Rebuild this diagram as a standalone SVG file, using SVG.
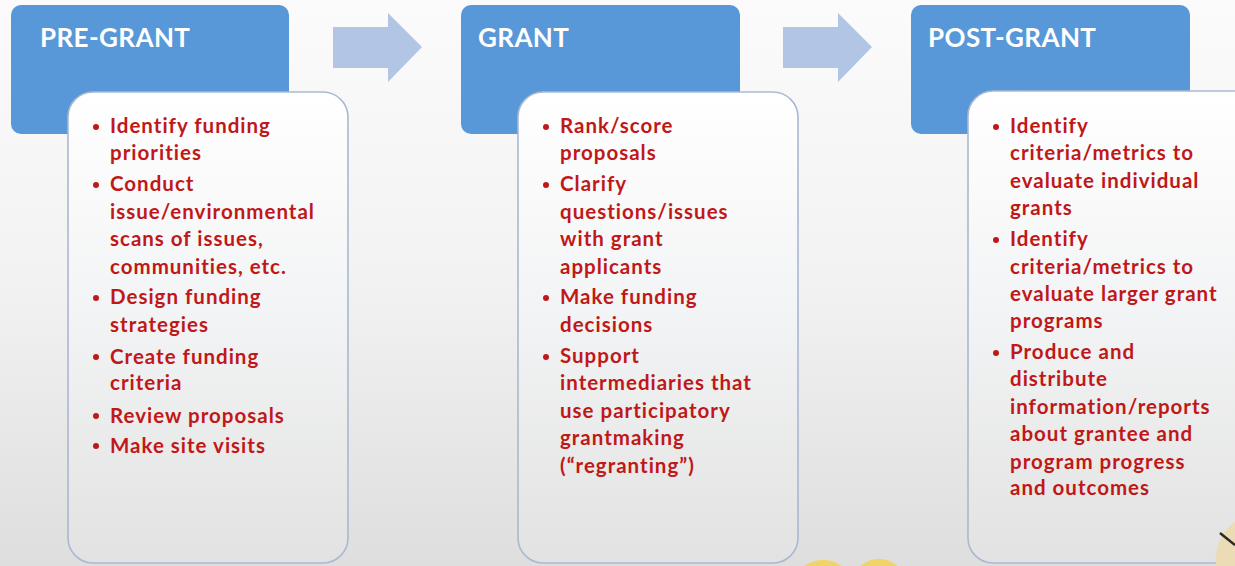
<svg xmlns="http://www.w3.org/2000/svg" width="1235" height="566" viewBox="0 0 1235 566">
  <defs>
    <linearGradient id="bg" x1="0" y1="0" x2="0" y2="1">
      <stop offset="0" stop-color="#fbfbfb"/>
      <stop offset="0.5" stop-color="#f2f2f2"/>
      <stop offset="1" stop-color="#dedede"/>
    </linearGradient>
    <linearGradient id="card" gradientUnits="userSpaceOnUse" x1="0" y1="92" x2="0" y2="564">
      <stop offset="0" stop-color="#ffffff"/>
      <stop offset="0.45" stop-color="#f3f4f5"/>
      <stop offset="1" stop-color="#e2e2e2"/>
    </linearGradient>
    <radialGradient id="duck" cx="0.5" cy="1" r="0.7">
      <stop offset="0" stop-color="#f0c21e"/>
      <stop offset="1" stop-color="#f0d466"/>
    </radialGradient>
  </defs>
  <style>
    .hdr { fill: #5898d8; }
    .hdrtxt { font-family: Lato, "Open Sans", sans-serif; font-weight: bold; font-size: 26px; letter-spacing: 0.4px; fill: #ffffff; }
    .card { fill: url(#card); stroke: #a9b9d2; stroke-width: 1.6; }
    .item { font-family: Lato, "Open Sans", sans-serif; font-weight: bold; font-size: 20.5px; letter-spacing: 1px; fill: #c01818; }
    .dot { fill: #c01818; }
    .arrow { fill: #b2c5e4; }
  </style>
  <rect x="0" y="0" width="1235" height="566" fill="url(#bg)"/>

  <g id="connectors">
    <polygon class="arrow" points="333,27 388,27 388,13 422,47 388,82 388,68 333,68"/>
    <polygon class="arrow" points="783,27 838,27 838,13 872,47 838,82 838,68 783,68"/>
  </g>

  <g id="pre-grant">
    <rect class="hdr" x="11" y="5" width="278" height="129" rx="10"/>
    <text class="hdrtxt" x="40" y="47">PRE-GRANT</text>
    <rect class="card" x="68" y="92" width="280" height="471" rx="25"/>
    <g class="item">
      <circle class="dot" cx="96" cy="127" r="3"/>
      <text x="110" y="133">Identify funding</text>
      <text x="110" y="160">priorities</text>
      <circle class="dot" cx="96" cy="185" r="3"/>
      <text x="110" y="191">Conduct</text>
      <text x="110" y="219">issue/environmental</text>
      <text x="110" y="246">scans of issues,</text>
      <text x="110" y="274">communities, etc.</text>
      <circle class="dot" cx="96" cy="298" r="3"/>
      <text x="110" y="304">Design funding</text>
      <text x="110" y="332">strategies</text>
      <circle class="dot" cx="96" cy="357" r="3"/>
      <text x="110" y="364">Create funding</text>
      <text x="110" y="390">criteria</text>
      <circle class="dot" cx="96" cy="416" r="3"/>
      <text x="110" y="423">Review proposals</text>
      <circle class="dot" cx="96" cy="446" r="3"/>
      <text x="110" y="453">Make site visits</text>
    </g>
  </g>

  <g id="grant">
    <rect class="hdr" x="461" y="5" width="279" height="129" rx="10"/>
    <text class="hdrtxt" x="478" y="47">GRANT</text>
    <rect class="card" x="518" y="92" width="280" height="471" rx="25"/>
    <g class="item">
      <circle class="dot" cx="546" cy="127" r="3"/>
      <text x="560" y="133">Rank/score</text>
      <text x="560" y="160">proposals</text>
      <circle class="dot" cx="546" cy="185" r="3"/>
      <text x="560" y="191">Clarify</text>
      <text x="560" y="219">questions/issues</text>
      <text x="560" y="246">with grant</text>
      <text x="560" y="274">applicants</text>
      <circle class="dot" cx="546" cy="298" r="3"/>
      <text x="560" y="304">Make funding</text>
      <text x="560" y="332">decisions</text>
      <circle class="dot" cx="546" cy="357" r="3"/>
      <text x="560" y="363">Support</text>
      <text x="560" y="390">intermediaries that</text>
      <text x="560" y="418">use participatory</text>
      <text x="560" y="445">grantmaking</text>
      <text x="560" y="473">(“regranting”)</text>
    </g>
  </g>

  <g id="post-grant">
    <rect class="hdr" x="911" y="5" width="279" height="129" rx="10"/>
    <text class="hdrtxt" x="928" y="47">POST-GRANT</text>
    <rect class="card" x="968" y="91" width="300" height="472" rx="25"/>
    <g class="item">
      <circle class="dot" cx="996" cy="127" r="3"/>
      <text x="1010" y="133">Identify</text>
      <text x="1010" y="160">criteria/metrics to</text>
      <text x="1010" y="188">evaluate individual</text>
      <text x="1010" y="215">grants</text>
      <circle class="dot" cx="996" cy="240" r="3"/>
      <text x="1010" y="246">Identify</text>
      <text x="1010" y="274">criteria/metrics to</text>
      <text x="1010" y="301">evaluate larger grant</text>
      <text x="1010" y="328">programs</text>
      <circle class="dot" cx="996" cy="353" r="3"/>
      <text x="1010" y="359">Produce and</text>
      <text x="1010" y="386">distribute</text>
      <text x="1010" y="414">information/reports</text>
      <text x="1010" y="441">about grantee and</text>
      <text x="1010" y="469">program progress</text>
      <text x="1010" y="495">and outcomes</text>
    </g>
  </g>

  <g id="overlay">
    <ellipse cx="823" cy="577" rx="24" ry="17" fill="url(#duck)"/>
    <ellipse cx="879" cy="577" rx="23" ry="18" fill="url(#duck)"/>
    <path d="M1216,566 C1214,548 1222,530 1235,522 L1235,566 Z" fill="#ecdcb6"/>
    <path d="M1220,533 L1235,545" stroke="#2a2a2a" stroke-width="2.5" fill="none"/>
  </g>
</svg>
